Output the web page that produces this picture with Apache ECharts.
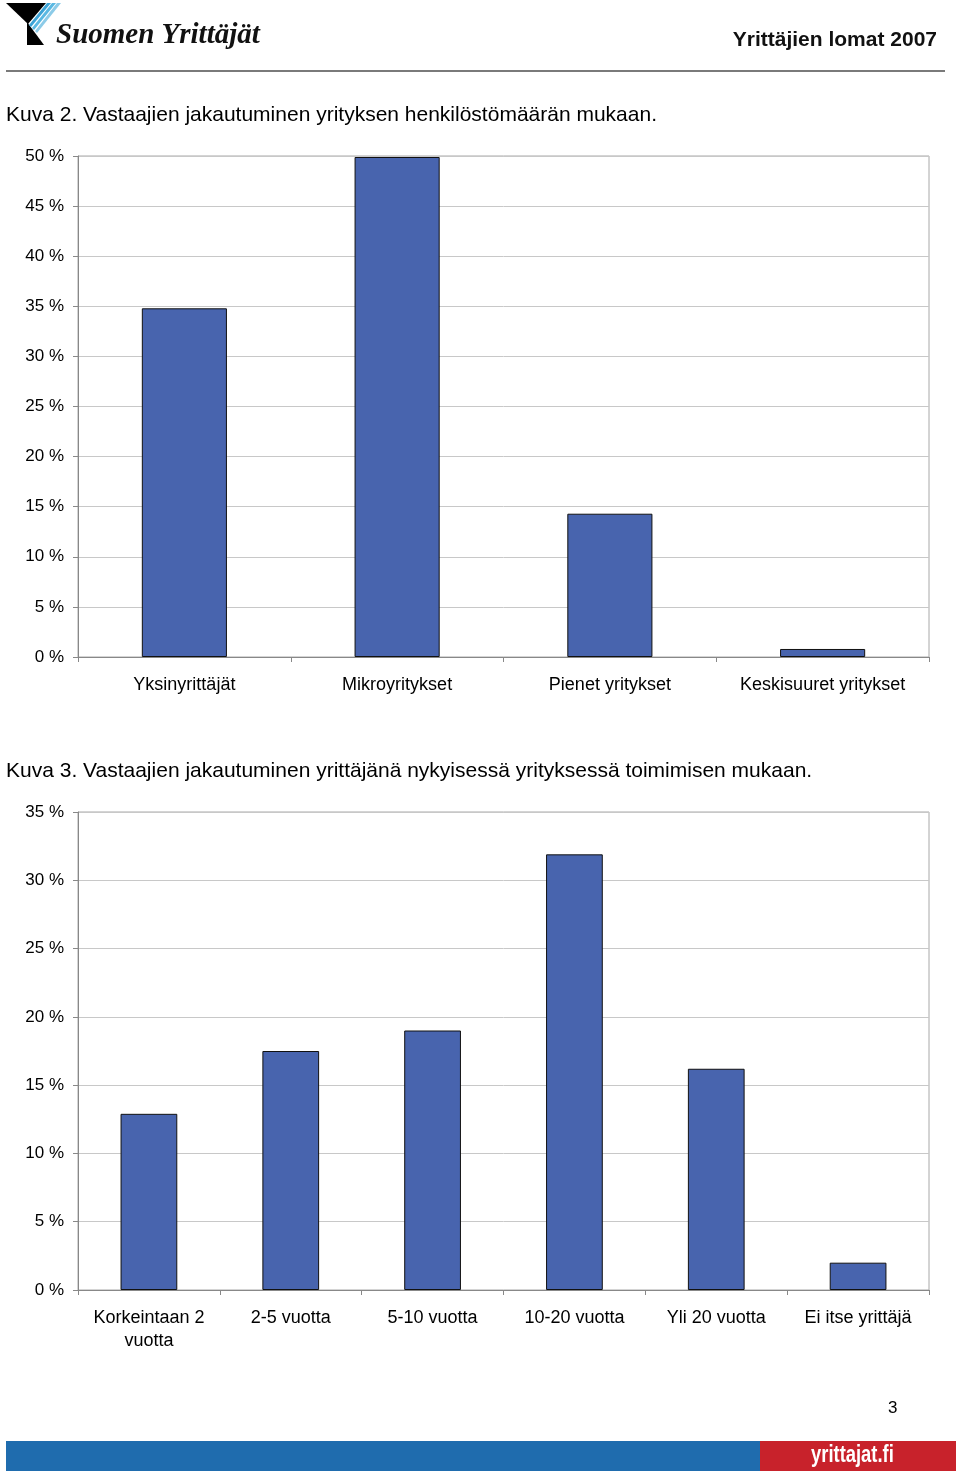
<!DOCTYPE html>
<html>
<head>
<meta charset="utf-8">
<script src="https://cdn.jsdelivr.net/npm/echarts@6/dist/echarts.min.js"></script>
<style>
  html, body { margin: 0; padding: 0; background: #fff; }
  #page { width: 960px; height: 1472px; }
</style>
</head>
<body>
<div id="page"></div>
<script>
// Kuva 2 - henkilöstömäärä
const sizeCategories = ['Yksinyrittäjät', 'Mikroyritykset', 'Pienet yritykset', 'Keskisuuret yritykset']
const sizeValues = [34.8, 49.9, 14.3, 0.8]
const sizeTicks = { min: 0, max: 50, interval: 5 }

// Kuva 3 - yrittäjänä toimiminen
const yearCategories = ['Korkeintaan 2\nvuotta', '2-5 vuotta', '5-10 vuotta', '10-20 vuotta', 'Yli 20 vuotta', 'Ei itse yrittäjä']
const yearValues = [12.9, 17.5, 19.0, 31.9, 16.2, 2.0]
const yearTicks = { min: 0, max: 35, interval: 5 }

const font = 'Liberation Sans, Arial, sans-serif'
const barColor = '#4864ae'

function xAxisFor (idx, cats) {
  return {
    type: 'category',
    gridIndex: idx,
    data: cats,
    axisLine: { lineStyle: { color: '#888', width: 1 } },
    axisTick: { show: true, length: 5, lineStyle: { color: '#888' } },
    axisLabel: { color: '#000', fontSize: 18, fontFamily: font, margin: 17, lineHeight: 23, interval: 0 }
  }
}

function yAxisFor (idx, t) {
  return {
    type: 'value',
    gridIndex: idx,
    min: t.min,
    max: t.max,
    interval: t.interval,
    axisLine: { show: true, lineStyle: { color: '#888' } },
    axisTick: { show: true, length: 5, lineStyle: { color: '#888' } },
    splitLine: { lineStyle: { color: '#c8c8c8' } },
    axisLabel: { color: '#000', fontSize: 17, fontFamily: font, margin: 14, formatter: '{value} %' }
  }
}

const chart = echarts.init(document.getElementById('page'))
chart.setOption({
  animation: false,
  grid: [
    { left: 78, top: 156, width: 851, height: 501, show: true, borderColor: '#a8a8a8', borderWidth: 1 },
    { left: 78, top: 812, width: 851, height: 478, show: true, borderColor: '#a8a8a8', borderWidth: 1 }
  ],
  xAxis: [xAxisFor(0, sizeCategories), xAxisFor(1, yearCategories)],
  yAxis: [yAxisFor(0, sizeTicks), yAxisFor(1, yearTicks)],
  series: [
    {
      type: 'bar',
      xAxisIndex: 0,
      yAxisIndex: 0,
      data: sizeValues,
      barWidth: '40%',
      itemStyle: { color: barColor, borderColor: '#111', borderWidth: 1 }
    },
    {
      type: 'bar',
      xAxisIndex: 1,
      yAxisIndex: 1,
      data: yearValues,
      barWidth: '40%',
      itemStyle: { color: barColor, borderColor: '#111', borderWidth: 1 }
    }
  ],
  graphic: [
    // logo
    { type: 'polygon', shape: { points: [[6, 3], [46, 3], [28, 24]] }, style: { fill: '#000' } },
    { type: 'polygon', shape: { points: [[27, 22], [27, 45], [44, 45]] }, style: { fill: '#000' } },
    { type: 'polygon', shape: { points: [[47, 3], [51, 3], [31, 27], [29, 25]] }, style: { fill: '#3ba3d6' } },
    { type: 'polygon', shape: { points: [[52, 3], [56, 3], [34, 30], [32, 28]] }, style: { fill: '#5ab8e2' } },
    { type: 'polygon', shape: { points: [[57, 3], [61, 3], [37, 33], [35, 31]] }, style: { fill: '#8ccbe8' } },
    {
      type: 'text', left: 56, top: 21,
      style: { text: 'Suomen Yrittäjät', font: 'italic bold 29px "Liberation Serif", "DejaVu Serif", serif', fill: '#111' }
    },
    {
      type: 'text', right: 23, top: 30,
      style: { text: 'Yrittäjien lomat 2007', font: 'bold 21px ' + font, fill: '#111' }
    },
    { type: 'line', shape: { x1: 6, y1: 71, x2: 945, y2: 71 }, style: { stroke: '#7a7a7a', lineWidth: 2 } },
    // titles
    {
      type: 'text', left: 6, top: 105,
      style: { text: 'Kuva 2. Vastaajien jakautuminen yrityksen henkilöstömäärän mukaan.', font: '21px ' + font, fill: '#000' }
    },
    {
      type: 'text', left: 6, top: 761,
      style: { text: 'Kuva 3. Vastaajien jakautuminen yrittäjänä nykyisessä yrityksessä toimimisen mukaan.', font: '21px ' + font, fill: '#000' }
    },
    // footer
    {
      type: 'text', left: 888, top: 1400,
      style: { text: '3', font: '17px ' + font, fill: '#000' }
    },
    { type: 'rect', shape: { x: 6, y: 1441, width: 754, height: 30 }, style: { fill: '#1f6cae' } },
    { type: 'rect', shape: { x: 760, y: 1441, width: 196, height: 30 }, style: { fill: '#c8222b' } },
    {
      type: 'text', x: 811, y: 1444, scaleX: 0.8,
      style: { text: 'yrittajat.fi', font: 'bold 23px ' + font, fill: '#fff' }
    }
  ]
})
</script>
</body>
</html>
